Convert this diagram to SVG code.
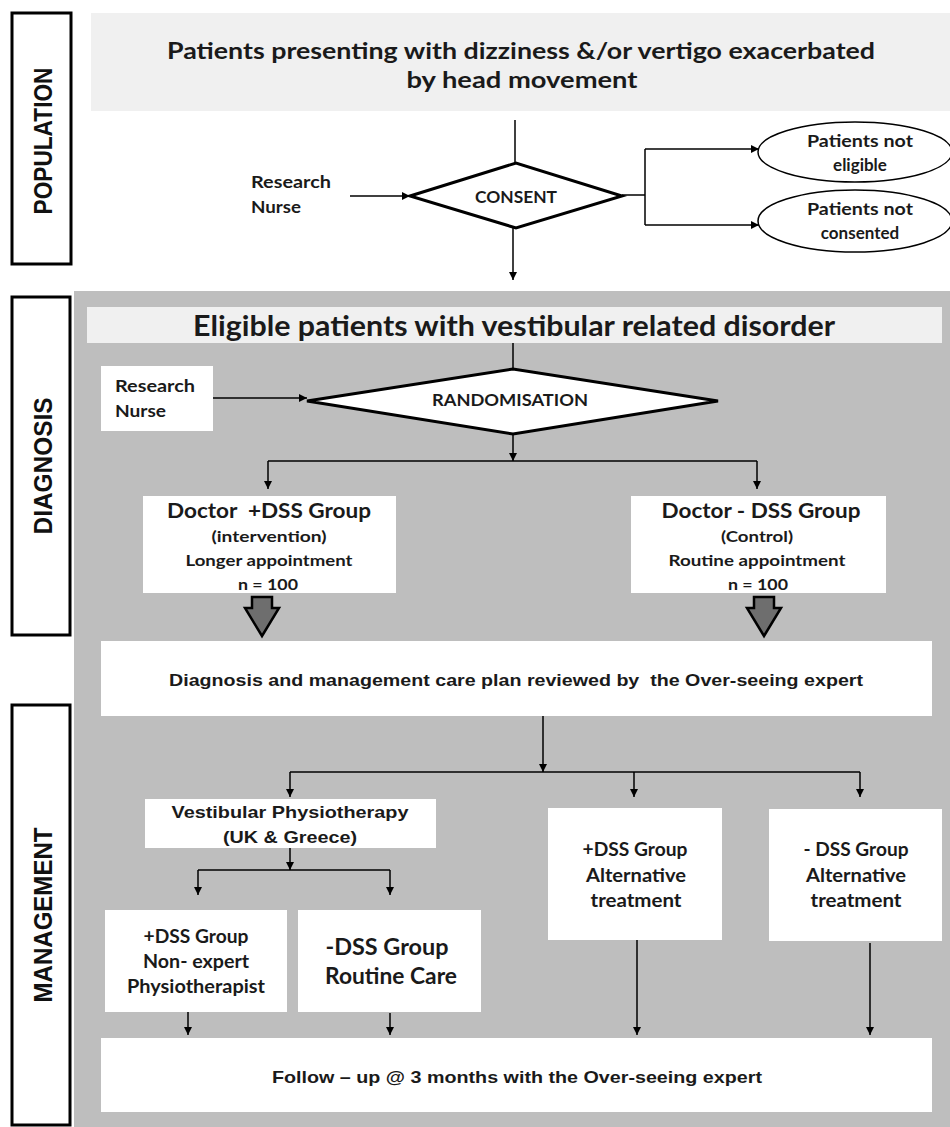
<svg xmlns="http://www.w3.org/2000/svg" width="950" height="1127" viewBox="0 0 950 1127">
<defs>
<marker id="ah" viewBox="0 0 10 10" markerWidth="9" markerHeight="8" refX="10" refY="5" orient="auto" markerUnits="userSpaceOnUse">
<path d="M0,0 L10,5 L0,10 z" fill="#000"/>
</marker>
<style>
.lbl{fill:#fff;stroke:#000;stroke-width:3}
.side{font-family:"Liberation Sans",Arial,sans-serif;font-weight:700;font-size:26px;fill:#111}
.box{fill:#fff;stroke:none}
.hdr{fill:#f0f0f0;stroke:none}
.dia{fill:#fff;stroke:#000;stroke-width:3}
.t{font-family:Lato,"Open Sans",sans-serif;font-weight:700;fill:#1a1a1a;text-anchor:middle}
.a{font-family:"Liberation Sans",Arial,sans-serif;font-weight:700;fill:#1a1a1a;text-anchor:middle}
.c{fill:none;stroke:#000;stroke-width:1.5}
.ca{fill:none;stroke:#000;stroke-width:1.5;marker-end:url(#ah)}
.fat{fill:#6e6e6e;stroke:#000;stroke-width:2.5;stroke-linejoin:miter}
</style>
</defs>

<rect x="74" y="291" width="876" height="836" fill="#bebebe"/>

<g id="label-population">
<rect class="lbl" x="12" y="13" width="59" height="251"/>
<text class="side" transform="translate(52,141) rotate(-90)" text-anchor="middle" textLength="147" lengthAdjust="spacingAndGlyphs">POPULATION</text>
</g>
<g id="label-diagnosis">
<rect class="lbl" x="12" y="297" width="58" height="338"/>
<text class="side" transform="translate(52,466) rotate(-90)" text-anchor="middle" textLength="137" lengthAdjust="spacingAndGlyphs">DIAGNOSIS</text>
</g>
<g id="label-management">
<rect class="lbl" x="12" y="705" width="58" height="420"/>
<text class="side" transform="translate(52,915) rotate(-90)" text-anchor="middle" textLength="175" lengthAdjust="spacingAndGlyphs">MANAGEMENT</text>
</g>

<g id="connectors">
<line class="c" x1="515" y1="120" x2="515" y2="163"/>
<line class="ca" x1="350" y1="196" x2="410" y2="196"/>
<line class="ca" x1="513" y1="228" x2="513" y2="280"/>
<polyline class="c" points="622,195 645,195"/>
<line class="c" x1="645" y1="149" x2="645" y2="225"/>
<line class="ca" x1="645" y1="149" x2="759" y2="149"/>
<line class="ca" x1="645" y1="225" x2="759" y2="225"/>

<line class="c" x1="513" y1="343" x2="513" y2="369"/>
<line class="ca" x1="213" y1="398" x2="307" y2="398"/>
<line class="ca" x1="513" y1="434" x2="513" y2="461"/>
<line class="c" x1="268" y1="461" x2="757" y2="461"/>
<line class="ca" x1="268" y1="461" x2="268" y2="489"/>
<line class="ca" x1="757" y1="461" x2="757" y2="489"/>

<line class="ca" x1="543" y1="716" x2="543" y2="772"/>
<line class="c" x1="290" y1="772" x2="860" y2="772"/>
<line class="ca" x1="290" y1="772" x2="290" y2="797"/>
<line class="ca" x1="634" y1="772" x2="634" y2="797"/>
<line class="ca" x1="860" y1="772" x2="860" y2="797"/>
<line class="ca" x1="290" y1="848" x2="290" y2="870"/>
<line class="c" x1="198" y1="870" x2="390" y2="870"/>
<line class="ca" x1="198" y1="870" x2="198" y2="895"/>
<line class="ca" x1="390" y1="870" x2="390" y2="895"/>
<line class="ca" x1="188" y1="1012" x2="188" y2="1035"/>
<line class="ca" x1="390" y1="1013" x2="390" y2="1035"/>
<line class="ca" x1="637" y1="940" x2="637" y2="1035"/>
<line class="ca" x1="870" y1="943" x2="870" y2="1035"/>

<path class="fat" d="M252,597 L272,597 L272,608 L279,608 L262,636 L245,608 L252,608 Z"/>
<path class="fat" d="M754,597 L774,597 L774,608 L781,608 L764,636 L747,608 L754,608 Z"/>
</g>

<g id="title">
<rect class="hdr" x="91" y="13" width="859" height="98"/>
<text class="t" x="521" y="59" font-size="23" textLength="708" lengthAdjust="spacingAndGlyphs">Patients presenting with dizziness &amp;/or vertigo exacerbated</text>
<text class="t" x="522" y="88" font-size="23" textLength="231" lengthAdjust="spacingAndGlyphs">by head movement</text>
</g>

<g id="nurse1">
<text class="t" x="251" y="188" font-size="17" style="text-anchor:start" textLength="80" lengthAdjust="spacingAndGlyphs">Research</text>
<text class="t" x="251" y="213" font-size="17" style="text-anchor:start" textLength="50" lengthAdjust="spacingAndGlyphs">Nurse</text>
</g>

<g id="consent">
<polygon class="dia" points="410,196 516,163 622,196 516,228"/>
<text class="t" x="516" y="203" font-size="17" textLength="82" lengthAdjust="spacingAndGlyphs">CONSENT</text>
</g>

<g id="not-eligible">
<ellipse cx="855" cy="152" rx="97" ry="30" fill="#fff" stroke="#000" stroke-width="1.5"/>
<text class="t" x="860" y="147" font-size="17" textLength="106" lengthAdjust="spacingAndGlyphs">Patients not</text>
<text class="t" x="860" y="171" font-size="17">eligible</text>
</g>
<g id="not-consented">
<ellipse cx="855" cy="221" rx="97" ry="31" fill="#fff" stroke="#000" stroke-width="1.5"/>
<text class="t" x="860" y="215" font-size="17" textLength="106" lengthAdjust="spacingAndGlyphs">Patients not</text>
<text class="t" x="860" y="239" font-size="17">consented</text>
</g>

<g id="eligible">
<rect class="hdr" x="87" y="307" width="855" height="36"/>
<text class="t" x="514" y="336" font-size="29" textLength="642" lengthAdjust="spacingAndGlyphs">Eligible patients with vestibular related disorder</text>
</g>

<g id="nurse2">
<rect class="box" x="101" y="366" width="112" height="65"/>
<text class="t" x="115" y="392" font-size="17" style="text-anchor:start" textLength="80" lengthAdjust="spacingAndGlyphs">Research</text>
<text class="t" x="115" y="417" font-size="17" style="text-anchor:start" textLength="51" lengthAdjust="spacingAndGlyphs">Nurse</text>
</g>

<g id="randomisation">
<polygon class="dia" points="307,401 513,369 718,401 513,434"/>
<text class="t" x="510" y="406" font-size="17" textLength="156" lengthAdjust="spacingAndGlyphs">RANDOMISATION</text>
</g>

<g id="doctor-plus">
<rect class="box" x="143" y="496" width="253" height="97"/>
<text class="t" x="269" y="518" font-size="21" textLength="204" lengthAdjust="spacingAndGlyphs" xml:space="preserve">Doctor  +DSS Group</text>
<text class="t" x="269" y="542" font-size="15" textLength="115" lengthAdjust="spacingAndGlyphs">(intervention)</text>
<text class="t" x="269" y="566" font-size="16" textLength="167" lengthAdjust="spacingAndGlyphs">Longer appointment</text>
<text class="t" x="268" y="590" font-size="16" textLength="60" lengthAdjust="spacingAndGlyphs">n = 100</text>
</g>

<g id="doctor-minus">
<rect class="box" x="631" y="496" width="255" height="97"/>
<text class="t" x="761" y="518" font-size="21" textLength="199" lengthAdjust="spacingAndGlyphs">Doctor - DSS Group</text>
<text class="t" x="757" y="542" font-size="15" textLength="72" lengthAdjust="spacingAndGlyphs">(Control)</text>
<text class="t" x="757" y="566" font-size="16" textLength="177" lengthAdjust="spacingAndGlyphs">Routine appointment</text>
<text class="t" x="758" y="590" font-size="16" textLength="60" lengthAdjust="spacingAndGlyphs">n = 100</text>
</g>

<g id="review">
<rect class="box" x="101" y="641" width="831" height="75"/>
<text class="a" x="516" y="686" font-size="17" textLength="694" lengthAdjust="spacingAndGlyphs" xml:space="preserve">Diagnosis and management care plan reviewed by  the Over-seeing expert</text>
</g>

<g id="vestibular">
<rect class="box" x="145" y="799" width="291" height="49"/>
<text class="a" x="290" y="818" font-size="17" textLength="237" lengthAdjust="spacingAndGlyphs">Vestibular Physiotherapy</text>
<text class="a" x="290" y="843" font-size="17" textLength="134" lengthAdjust="spacingAndGlyphs">(UK &amp; Greece)</text>
</g>

<g id="plus-nonexpert">
<rect class="box" x="105" y="910" width="182" height="102"/>
<text class="t" x="196" y="943" font-size="18" textLength="105" lengthAdjust="spacingAndGlyphs">+DSS Group</text>
<text class="t" x="196" y="968" font-size="18" textLength="106" lengthAdjust="spacingAndGlyphs">Non- expert</text>
<text class="t" x="196" y="993" font-size="18" textLength="138" lengthAdjust="spacingAndGlyphs">Physiotherapist</text>
</g>

<g id="minus-routine">
<rect class="box" x="298" y="910" width="183" height="102"/>
<text class="t" x="387" y="955" font-size="22" textLength="123" lengthAdjust="spacingAndGlyphs">-DSS Group</text>
<text class="t" x="391" y="984" font-size="22" textLength="132" lengthAdjust="spacingAndGlyphs">Routine Care</text>
</g>

<g id="plus-alt">
<rect class="box" x="548" y="808" width="174" height="132"/>
<text class="t" x="635" y="856" font-size="18" textLength="105" lengthAdjust="spacingAndGlyphs">+DSS Group</text>
<text class="t" x="636" y="882" font-size="18" textLength="100" lengthAdjust="spacingAndGlyphs">Alternative</text>
<text class="t" x="636" y="907" font-size="18" textLength="91" lengthAdjust="spacingAndGlyphs">treatment</text>
</g>

<g id="minus-alt">
<rect class="box" x="769" y="809" width="173" height="132"/>
<text class="t" x="856" y="856" font-size="18" textLength="105" lengthAdjust="spacingAndGlyphs">- DSS Group</text>
<text class="t" x="856" y="882" font-size="18" textLength="100" lengthAdjust="spacingAndGlyphs">Alternative</text>
<text class="t" x="856" y="907" font-size="18" textLength="91" lengthAdjust="spacingAndGlyphs">treatment</text>
</g>

<g id="followup">
<rect class="box" x="101" y="1038" width="831" height="74"/>
<text class="a" x="517" y="1083" font-size="17" textLength="490" lengthAdjust="spacingAndGlyphs">Follow – up @ 3 months with the Over-seeing expert</text>
</g>
</svg>
